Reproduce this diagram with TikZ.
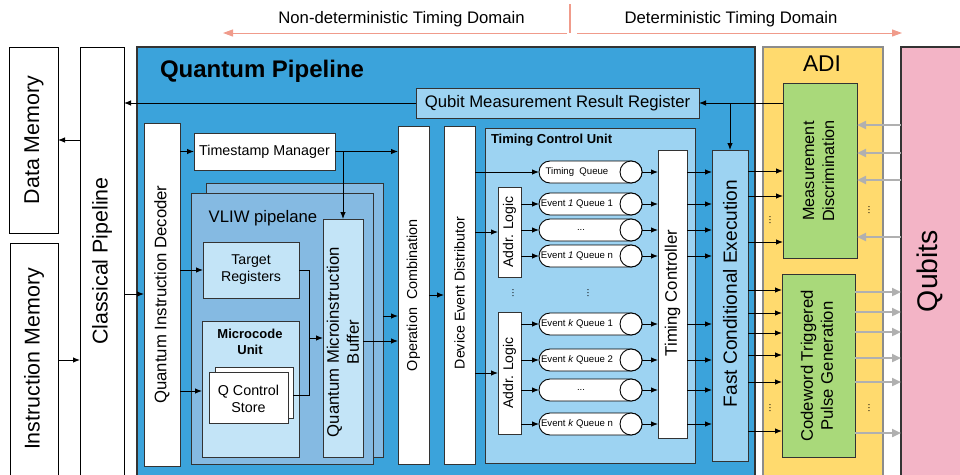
\documentclass[tikz,border=0pt]{standalone}
\usepackage{fontspec}
\setmainfont{Liberation Sans}
\usetikzlibrary{arrows.meta,fit}
\definecolor{qpblue}{HTML}{3BA3DB}
\definecolor{lblue}{HTML}{9DD3F2}
\definecolor{vblue}{HTML}{85BAE2}
\definecolor{pblue}{HTML}{C3E4F7}
\definecolor{adiY}{HTML}{FFDA6E}
\definecolor{adiB}{HTML}{8C8C8C}
\definecolor{grn}{HTML}{A9D97A}
\definecolor{pnk}{HTML}{F3B4C6}
\definecolor{salm}{HTML}{F09B8B}
\definecolor{grayA}{HTML}{B0B0B0}
\definecolor{lineC}{HTML}{333333}
\newcommand\fz[2]{\fontsize{#1}{#2}\selectfont}
\newcommand\bx[6]{\node[#6, fit={(#2,#3) (#4,#5)}, inner sep=0pt, outer sep=0pt] (#1) {};}
\newcommand\queue[3]{%
  \node[inner sep=0pt, outer sep=0pt, minimum width=103pt, minimum height=22pt] (#1) at (590.5,#2) {};
  \draw[qline, rounded corners=11pt] (#1.south west) rectangle (#1.north east);
  \draw[qline] ([xshift=-11pt]#1.east) circle[radius=11pt];
  \node[txt, font=\fz{9.6}{11}] (#1-t) at (577,#2) {#3};}
\begin{document}
\begin{tikzpicture}[x=1pt,y=-1pt,
  txt/.style={inner sep=0pt, outer sep=0pt, align=center},
  wbox/.style={draw=lineC, fill=white, line width=0.9pt},
  kbox/.style={draw=black, fill=white, line width=0.9pt},
  lbbox/.style={draw=lineC, fill=lblue, line width=0.9pt},
  vbox/.style={draw=lineC, fill=vblue, line width=0.9pt},
  pbox/.style={draw=lineC, fill=pblue, line width=0.9pt},
  gbox/.style={draw=lineC, fill=grn, line width=0.9pt},
  qline/.style={draw=black, fill=white, line width=0.9pt},
  plain/.style={draw=black, line width=0.9pt},
  arr/.style={draw=black, line width=0.9pt, -{Latex[length=7pt,width=5.5pt]}},
  garr/.style={draw=grayA, line width=2.2pt, -{Triangle[length=9pt,width=8pt]}},
  sarr/.style={draw=salm, line width=1pt, -{Triangle[length=10pt,width=7pt]}}
]
\useasboundingbox (0,0) rectangle (960,474);
\clip (0,0) rectangle (960,474);

% header
\node[txt, font=\fz{16.7}{20}] (nd) at (401.5,19) {Non-deterministic Timing Domain};
\node[txt, font=\fz{16.7}{20}] (dd) at (731,19) {Deterministic Timing Domain};
\coordinate (hl) at (223,33);
\coordinate (hm) at (570,33);
\coordinate (hr) at (902,33);
\coordinate (htop) at (570,4);
\draw[draw=salm, line width=2pt] (htop) -- (hm);
\draw[sarr] ([xshift=-3pt]hm) -- (hl);
\draw[sarr] ([xshift=7pt]hm) -- (hr);

% left column
\bx{dm}{9}{47}{58}{233}{kbox}
\bx{im}{10}{243}{58}{490}{kbox}
\bx{cp}{80}{47}{124}{490}{kbox}
\node[txt, rotate=90, font=\fz{21.4}{25}] (dm-t) at (34,140) {Data Memory};
\node[txt, rotate=90, font=\fz{21.4}{25}] (im-t) at (34,359) {Instruction Memory};
\node[txt, rotate=90, font=\fz{21.4}{25}] (cp-t) at (102,261) {Classical Pipeline};

% quantum pipeline
\bx{qp}{137}{47}{755}{490}{draw=lineC, fill=qpblue, line width=1.5pt}
\node[txt, anchor=west, font=\bfseries\fz{24}{28}] (qp-t) at (160,71) {Quantum Pipeline};

\bx{qmrr}{416}{88}{699}{118}{lbbox}
\node[txt, font=\fz{16.7}{20}] (qmrr-t) at (qmrr.center) {Qubit Measurement Result Register};

\bx{qid}{144}{123}{180}{466}{wbox}
\node[txt, rotate=90, font=\fz{16.7}{20}] (qid-t) at (162,294.5) {Quantum Instruction Decoder};

\bx{tm}{194}{133}{335}{170}{wbox}
\node[txt, font=\fz{14.3}{17}] (tm-t) at (tm.center) {Timestamp Manager};

\bx{vb}{206}{183}{383}{457}{vbox}
\bx{vf}{191}{193}{373}{464}{vbox}
\node[txt, font=\fz{16.7}{20}] (vf-t) at (263,218) {VLIW pipelane};

\bx{tr}{203}{242}{299}{298}{pbox}
\node[txt, font=\fz{14.2}{17}] (tr-t) at (tr.center) {Target\\Registers};

\bx{mu}{202}{321}{299}{457}{pbox}
\node[txt, font=\bfseries\fz{13}{15.5}] (mu-t) at (250,342) {Microcode\\Unit};

\bx{qcsb}{215}{367}{293}{418}{wbox}
\bx{qcs}{209}{372}{288}{423}{wbox}
\node[txt, font=\fz{14.3}{17}] (qcs-t) at (248.5,399) {Q Control\\Store};

\bx{qmb}{323}{219}{363}{457}{pbox}
\node[txt, rotate=90, font=\fz{16.7}{20}] (qmb-t) at (343,342) {Quantum Microinstruction\\Buffer};

\bx{oc}{398}{126}{429}{464}{wbox}
\node[txt, rotate=90, font=\fz{14.4}{17}] (oc-t) at (413.5,295) {Operation\ \ Combination};

\bx{ded}{444}{126}{475}{464}{wbox}
\node[txt, rotate=90, font=\fz{14.2}{17}] (ded-t) at (459.5,293) {Device Event Distributor};

% timing control unit
\bx{tcu}{485}{128}{695}{463}{lbbox}
\node[txt, anchor=west, font=\bfseries\fz{13}{15}] (tcu-t) at (491,140) {Timing Control Unit};

\bx{al1}{498}{187}{521}{277}{wbox}
\node[txt, rotate=90, font=\fz{14}{17}] (al1-t) at (al1.center) {Addr. Logic};
\bx{al2}{498}{312}{521}{434}{wbox}
\node[txt, rotate=90, font=\fz{14}{17}] (al2-t) at (al2.center) {Addr. Logic};

\queue{tq}{172}{Timing\ \ Queue}
\queue{q11}{204}{Event \textit{1} Queue 1}
\queue{q1d}{230}{\hspace{8pt}...}
\queue{q1n}{256}{Event \textit{1} Queue n}
\queue{qk1}{324}{Event \textit{k} Queue 1}
\queue{qk2}{360}{Event \textit{k} Queue 2}
\queue{qkd}{390}{\hspace{8pt}...}
\queue{qkn}{424}{Event \textit{k} Queue n}

\node[txt, rotate=90, font=\fz{10}{12}] (dv1) at (513,293) {...};
\node[txt, rotate=90, font=\fz{10}{12}] (dv2) at (588,293) {...};

\bx{tc}{658}{150}{687}{438}{wbox}
\node[txt, rotate=90, font=\fz{16.7}{20}] (tc-t) at (672.5,293) {Timing Controller};

\bx{fce}{712}{150}{748}{461}{lbbox}
\node[txt, rotate=90, font=\fz{19.1}{23}] (fce-t) at (730,293.5) {Fast Conditional Execution};

% ADI
\bx{adi}{763}{47}{883}{490}{draw=adiB, fill=adiY, line width=1.2pt}
\node[txt, font=\fz{22.8}{27}] (adi-t) at (822,64) {ADI};
\bx{md}{783}{83}{857}{258}{gbox}
\node[txt, rotate=90, font=\fz{16.2}{20}] (md-t) at (818.5,171) {Measurement\\Discrimination};
\bx{ctpg}{782}{274}{855}{457}{gbox}
\node[txt, rotate=90, font=\fz{16.7}{20}] (ctpg-t) at (817,366) {Codeword Triggered\\Pulse Generation};

\node[txt, rotate=90, font=\fz{10}{12}] (dv3) at (770,220) {...};
\node[txt, rotate=90, font=\fz{10}{12}] (dv4) at (869,210) {...};
\node[txt, rotate=90, font=\fz{10}{12}] (dv5) at (770,408) {...};
\node[txt, rotate=90, font=\fz{10}{12}] (dv6) at (869,408) {...};

% qubits
\bx{qb}{901}{47}{980}{490}{draw=lineC, fill=pnk, line width=1.2pt}
\node[txt, rotate=90, font=\fz{28.4}{34}] (qb-t) at (930,271) {Qubits};

% connectors
\draw[arr] (cp.west |- 0,140) -- (dm.east |- 0,140);
\draw[arr] (im.east |- 0,360) -- (cp.west |- 0,360);
\draw[arr] (qmrr.west) -- (cp.east |- qmrr.west);
\draw[arr] (cp.east |- 0,294) -- (qid.west |- 0,294);
\draw[arr] (md.west |- qmrr.east) -- (qmrr.east);
\draw[arr] (fce.north |- qmrr.east) -- (fce.north);
\draw[arr] (qid.east |- tm.west) -- (tm.west);
\draw[arr] (tm.east) -- (oc.west |- tm.east);
\draw[arr] (qmb.north |- tm.east) -- (qmb.north);
\draw[arr] (qid.east |- tr.west) -- (tr.west);
\draw[arr] (qid.east |- 0,391) -- (mu.west |- 0,391);
\coordinate (jn) at (309,338);
\draw[plain] (tr.east) -| (jn);
\draw[plain] (qcsb.east |- 0,395) -| (jn);
\draw[arr] (jn) -- (qmb.west |- jn);
\draw[arr] (vb.east |- 0,316) -- (oc.west |- 0,316);
\draw[arr] (qmb.east |- 0,341) -- (oc.west |- 0,341);
\draw[arr] (oc.east |- 0,295) -- (ded.west |- 0,295);
\draw[arr] (ded.east |- tq.west) -- (tq.west);
\draw[arr] (ded.east |- al1.west) -- (al1.west);
\draw[arr] (ded.east |- al2.west) -- (al2.west);
\foreach \q in {q11,q1d,q1n} \draw[arr] (al1.east |- \q.west) -- (\q.west);
\foreach \q in {qk1,qk2,qkd,qkn} \draw[arr] (al2.east |- \q.west) -- (\q.west);
\foreach \q in {tq,q11,q1d,q1n,qk1,qk2,qkd,qkn} {
  \draw[arr] (\q.east) -- (tc.west |- \q.east);
  \draw[arr] (tc.east |- \q.east) -- (fce.west |- \q.east);
}
\foreach \y in {171,196,242} \draw[arr] (fce.east |- 0,\y) -- (md.west |- 0,\y);
\foreach \y in {290,313,333,355,382,431} \draw[arr] (fce.east |- 0,\y) -- (ctpg.west |- 0,\y);
\foreach \y in {125,153,180,237} \draw[garr] (qb.west |- 0,\y) -- (md.east |- 0,\y);
\foreach \y in {292,312,332,358,382,433} \draw[garr] (ctpg.east |- 0,\y) -- (qb.west |- 0,\y);
\end{tikzpicture}
\end{document}
